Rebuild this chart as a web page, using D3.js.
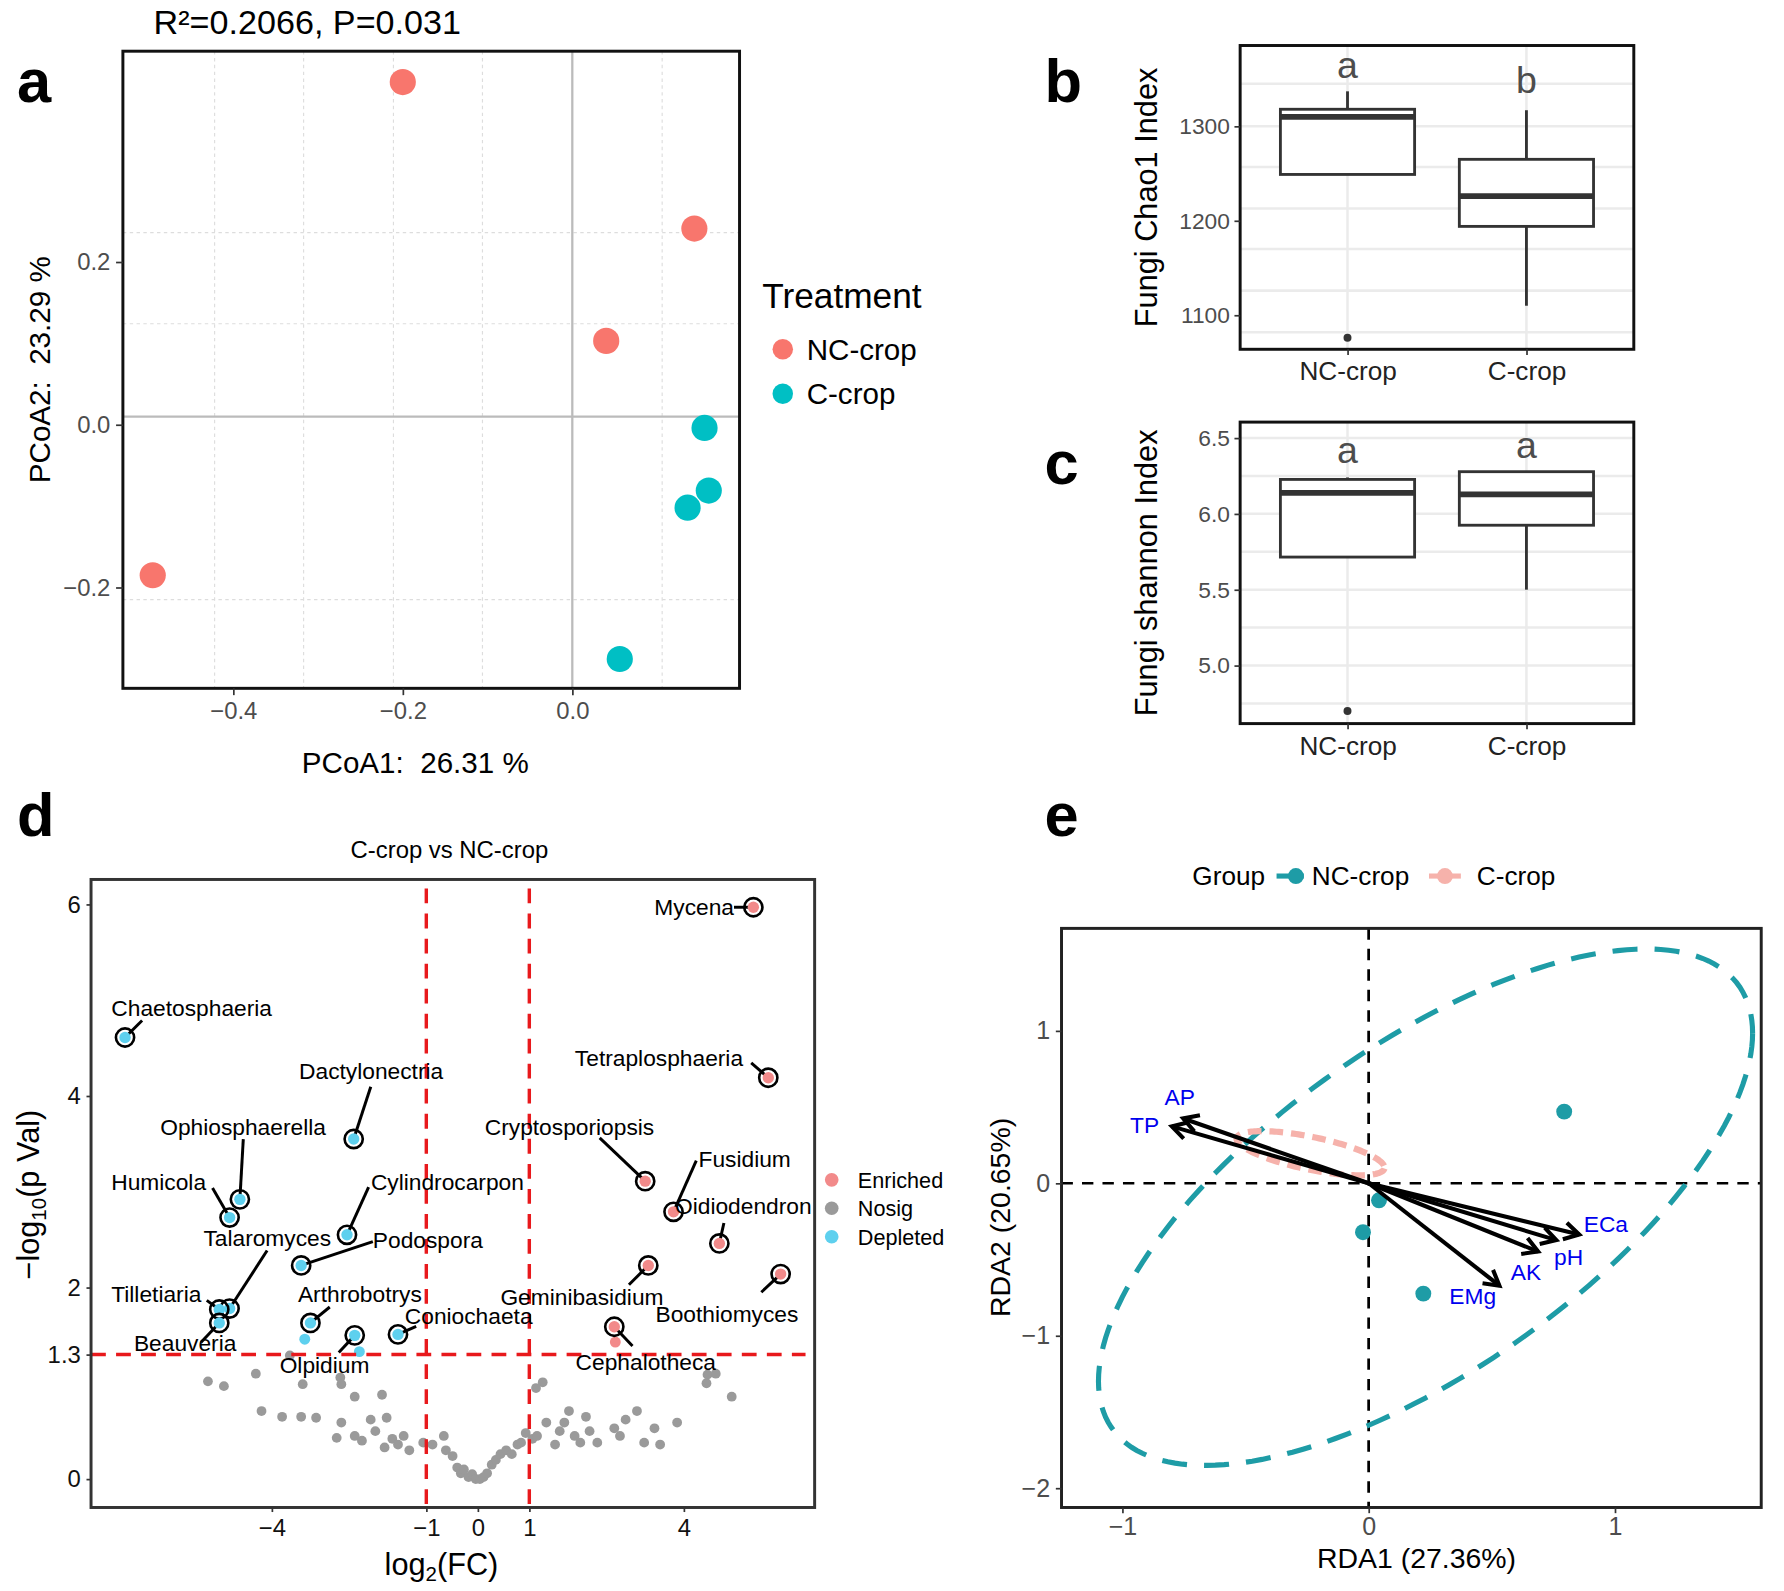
<!DOCTYPE html>
<html><head><meta charset="utf-8">
<script src="https://cdn.jsdelivr.net/npm/d3@7"></script>
<style>
body{margin:0;background:#fff}
svg{display:block}
text{font-family:"Liberation Sans",Arial,sans-serif}
</style>
</head><body>
<svg id="fig" width="1784" height="1591" viewBox="0 0 1568 1398.4"></svg>
<script>
// ---------------- DATA ----------------
// Panel a: PCoA
const pcoaGroups = ["NC-crop","NC-crop","NC-crop","NC-crop","C-crop","C-crop","C-crop","C-crop"];
const pcoaX = [-0.200, 0.144, 0.040, -0.495, 0.156, 0.161, 0.136, 0.056];
const pcoaY = [0.421, 0.241, 0.103, -0.185, -0.004, -0.081, -0.102, -0.288];
const pcoaTicksX = [-0.4, -0.2, 0.0];
const pcoaTicksY = [-0.2, 0.0, 0.2];
const pcoaGridX = [-0.422, -0.317, -0.211, -0.106, 0.106];
const pcoaGridY = [0.236, 0.124, -0.215];
const pcoaTitle = "R²=0.2066, P=0.031";

// Panel b / c: boxplots
const groups = ["NC-crop", "C-crop"];
const chaoQ1 = [1249, 1194], chaoMed = [1310, 1226], chaoQ3 = [1318, 1265];
const chaoLow = [1249, 1110], chaoHigh = [1337, 1317];
const chaoOut = [[1076], []];
const chaoLetters = ["a", "b"], chaoLetterY = [1364, 1348];
const chaoTicks = [1100, 1200, 1300];
const chaoGrid = [1082, 1126, 1170, 1213, 1257, 1300, 1345];

const shanQ1 = [5.715, 5.925], shanMed = [6.138, 6.129], shanQ3 = [6.227, 6.278];
const shanLow = [5.715, 5.50], shanHigh = [6.24, 6.278];
const shanOut = [[4.70], []];
const shanLetters = ["a", "a"], shanLetterY = [6.42, 6.45];
const shanTicks = [5.0, 5.5, 6.0, 6.5];
const shanGrid = [4.75, 5.0, 5.25, 5.5, 5.75, 6.0, 6.25, 6.5];

// Panel d: volcano
const sigNames = ["Chaetosphaeria","Dactylonectria","Ophiosphaerella","Humicola","Cylindrocarpon","Talaromyces","Podospora","Tilletiaria","Beauveria","Arthrobotrys","Olpidium","Coniochaeta",
  "Mycena","Tetraplosphaeria","Cryptosporiopsis","Fusidium","Oidiodendron","Geminibasidium","Boothiomyces","Cephalotheca"];
const sigFC = [-6.85,-2.41,-4.62,-4.82,-2.54,-4.82,-3.43,-5.02,-5.02,-3.25,-2.39,-1.55,
  5.35,5.64,3.25,3.80,4.69,3.31,5.88,2.65];
const sigP = [4.61,3.55,2.92,2.73,2.55,1.78,2.23,1.77,1.63,1.63,1.50,1.51,
  5.97,4.19,3.11,2.79,2.46,2.23,2.14,1.59];
const extraSigFC = [-3.36, -2.30, 2.67];
const extraSigP = [1.46, 1.33, 1.43];
const nosigFC = [-5.24,-4.93,-4.31,-3.65,-3.40,-2.67,-2.65,-4.20,-3.80,-3.43,-3.14,-2.74,-2.39,-2.25,-2.65,-2.08,-1.99,-1.77,-1.81,-1.66,-1.55,-1.44,-1.33,-1.06,-0.88,-0.66,-0.62,-0.49,-0.40,-0.33,-0.27,-0.18,-0.11,-0.04,0.04,0.11,0.18,0.27,0.35,0.44,0.55,0.66,0.77,0.84,0.93,1.06,1.15,1.26,1.13,1.33,1.50,1.59,1.68,1.77,1.88,1.99,2.10,2.17,2.32,2.65,2.76,2.87,3.09,3.23,3.43,3.54,3.87,4.46,4.62,4.44,4.93,-2.39,-1.86];
const nosigP = [1.02,0.97,1.10,1.29,0.99,1.06,0.99,0.71,0.65,0.65,0.64,0.43,0.45,0.40,0.59,0.62,0.50,0.64,0.33,0.42,0.36,0.45,0.30,0.38,0.36,0.45,0.30,0.24,0.12,0.06,0.10,0.02,0.05,0.00,0.00,0.02,0.06,0.15,0.20,0.26,0.30,0.26,0.36,0.38,0.48,0.42,0.45,1.01,0.95,0.59,0.36,0.50,0.59,0.71,0.45,0.38,0.65,0.50,0.38,0.53,0.45,0.62,0.71,0.38,0.53,0.36,0.59,1.09,1.10,1.00,0.86,0.86,0.88];
const volcTicksX = [-4, -1, 0, 1, 4];
const volcTicksY = [0, 1.3, 2, 4, 6];
const fcCut = [-1, 1], pCut = 1.3;

// Panel e: RDA
const rdaSiteX = [0.794, 0.042, -0.023, 0.222];
const rdaSiteY = [0.470, -0.112, -0.321, -0.724];
const envNames = ["AP","TP","ECa","pH","AK","EMg"];
const envX = [-0.753, -0.799, 0.855, 0.762, 0.688, 0.531];
const envY = [0.425, 0.373, -0.336, -0.373, -0.448, -0.672];
const ellNC = {c:[0.231,-0.157], a:[1.328,1.142], b:[0,-1.251]};
const ellC = {c:[-0.236,0.197], a:[0.300,-0.100], b:[-0.014,-0.105]};
const rdaTicksX = [-1, 0, 1];
const rdaTicksY = [-2, -1, 0, 1];

// ---------------- DRAW ----------------
const svg = d3.select("#fig");
const FONT = '"Liberation Sans",Arial,sans-serif';
const fmtMinus = d => String(d).replace("-", "\u2212");

function txt(g, x, y, s, o = {}) {
  const t = g.append("text").attr("x", x).attr("y", y).text(s)
    .attr("font-size", o.size || 20).attr("fill", o.fill || "#000")
    .attr("text-anchor", o.anchor || "start");
  if (o.weight) t.attr("font-weight", o.weight);
  if (o.rotate) t.attr("transform", `rotate(${o.rotate},${x},${y})`);
  if (o.pre) t.style("white-space", "pre");
  return t;
}

// panel letters
[["a",15,90],["b",918,90],["c",918,425],["d",15,735],["e",918,735]].forEach(([l,x,y]) =>
  txt(svg, x, y, l, {size: 54, weight: "bold"}));

// ===== Panel a =====
(function(){
  const g = svg.append("g");
  const x = d3.scaleLinear().domain([-0.5302, 0.1973]).range([108, 650]);
  const y = d3.scaleLinear().domain([-0.324, 0.459]).range([605, 45]);
  const col = {"NC-crop": "#F8766D", "C-crop": "#00BFC4"};
  pcoaGridX.forEach(v => g.append("line").attr("x1", x(v)).attr("x2", x(v)).attr("y1", 45).attr("y2", 605)
    .attr("stroke", "#DDDDDD").attr("stroke-width", 1).attr("stroke-dasharray", "3,3"));
  pcoaGridY.forEach(v => g.append("line").attr("y1", y(v)).attr("y2", y(v)).attr("x1", 108).attr("x2", 650)
    .attr("stroke", "#DDDDDD").attr("stroke-width", 1).attr("stroke-dasharray", "3,3"));
  g.append("line").attr("x1", x(0)).attr("x2", x(0)).attr("y1", 45).attr("y2", 605).attr("stroke", "#BBBBBB").attr("stroke-width", 2);
  g.append("line").attr("y1", y(0.01)).attr("y2", y(0.01)).attr("x1", 108).attr("x2", 650).attr("stroke", "#BBBBBB").attr("stroke-width", 2);
  g.selectAll("circle.p").data(pcoaX).join("circle")
    .attr("cx", (d) => x(d)).attr("cy", (d, i) => y(pcoaY[i])).attr("r", 11.5)
    .attr("fill", (d, i) => col[pcoaGroups[i]]);
  g.append("rect").attr("x", 108).attr("y", 45).attr("width", 542).attr("height", 560)
    .attr("fill", "none").attr("stroke", "#111").attr("stroke-width", 2.6);
  const ax = g.append("g").attr("transform", "translate(0,605)")
    .call(d3.axisBottom(x).tickValues(pcoaTicksX).tickFormat(d => fmtMinus(d3.format(".1f")(d))).tickSize(6).tickPadding(6));
  const ay = g.append("g").attr("transform", "translate(108,0)")
    .call(d3.axisLeft(y).tickValues(pcoaTicksY).tickFormat(d => fmtMinus(d3.format(".1f")(d))).tickSize(6).tickPadding(5));
  [ax, ay].forEach(a => { a.select(".domain").remove(); a.selectAll("line").attr("stroke", "#333").attr("stroke-width", 1.5);
    a.selectAll("text").attr("font-size", 21).attr("fill", "#4D4D4D").attr("font-family", FONT); });
  txt(g, 135, 30, pcoaTitle, {size: 30});
  txt(g, 365, 679, "PCoA1:  26.31 %", {size: 26, anchor: "middle", pre: true});
  txt(g, 44, 325, "PCoA2:  23.29 %", {size: 26, anchor: "middle", rotate: -90, pre: true});
  txt(g, 670, 271, "Treatment", {size: 31});
  groups.forEach((k, i) => {
    g.append("circle").attr("cx", 688).attr("cy", 307 + i * 39).attr("r", 9).attr("fill", col[k]);
    txt(g, 709, 316 + i * 39, k, {size: 26});
  });
})();

// ===== Panels b, c =====
function boxPanel(top, bottom, dom, q1, med, q3, lo, hi, outs, letters, letterY, ticks, grid, fmt, ylab) {
  const g = svg.append("g");
  const L = 1090, R = 1436;
  const x = d3.scalePoint().domain(groups).range([L, R]).padding(0.6);
  const y = d3.scaleLinear().domain(dom).range([bottom, top]);
  const bw = x.step() * 0.75;
  grid.forEach(v => g.append("line").attr("x1", L).attr("x2", R).attr("y1", y(v)).attr("y2", y(v)).attr("stroke", "#EBEBEB").attr("stroke-width", 2.2));
  groups.forEach(k => g.append("line").attr("x1", x(k)).attr("x2", x(k)).attr("y1", top).attr("y2", bottom).attr("stroke", "#EBEBEB").attr("stroke-width", 2.2));
  groups.forEach((k, i) => {
    const cx = x(k);
    g.append("line").attr("x1", cx).attr("x2", cx).attr("y1", y(hi[i])).attr("y2", y(q3[i])).attr("stroke", "#333").attr("stroke-width", 2.5);
    g.append("line").attr("x1", cx).attr("x2", cx).attr("y1", y(q1[i])).attr("y2", y(lo[i])).attr("stroke", "#333").attr("stroke-width", 2.5);
    g.append("rect").attr("x", cx - bw / 2).attr("width", bw).attr("y", y(q3[i])).attr("height", y(q1[i]) - y(q3[i]))
      .attr("fill", "#fff").attr("stroke", "#333").attr("stroke-width", 2.5);
    g.append("line").attr("x1", cx - bw / 2).attr("x2", cx + bw / 2).attr("y1", y(med[i])).attr("y2", y(med[i])).attr("stroke", "#333").attr("stroke-width", 5);
    outs[i].forEach(o => g.append("circle").attr("cx", cx).attr("cy", y(o)).attr("r", 3.5).attr("fill", "#333"));
    txt(g, cx, y(letterY[i]) + 11, letters[i], {size: 33, anchor: "middle", fill: "#4D4D4D"});
  });
  g.append("rect").attr("x", L).attr("y", top).attr("width", R - L).attr("height", bottom - top)
    .attr("fill", "none").attr("stroke", "#111").attr("stroke-width", 2.6);
  const ay = g.append("g").attr("transform", `translate(${L},0)`)
    .call(d3.axisLeft(y).tickValues(ticks).tickFormat(fmt).tickSize(5).tickPadding(4));
  const ax = g.append("g").attr("transform", `translate(0,${bottom})`)
    .call(d3.axisBottom(x).tickSize(5).tickPadding(6));
  ay.selectAll("text").attr("font-size", 20).attr("fill", "#4D4D4D");
  ax.selectAll("text").attr("font-size", 23).attr("fill", "#222");
  [ax, ay].forEach(a => { a.select(".domain").remove(); a.selectAll("line").attr("stroke", "#333").attr("stroke-width", 1.5);
    a.selectAll("text").attr("font-family", FONT); });
  txt(g, 1017, (top + bottom) / 2, ylab, {size: 27, anchor: "middle", rotate: -90});
}
boxPanel(40, 307, [1063.9, 1385.5], chaoQ1, chaoMed, chaoQ3, chaoLow, chaoHigh, chaoOut, chaoLetters, chaoLetterY, chaoTicks, chaoGrid, d3.format("d"), "Fungi Chao1 Index");
boxPanel(371, 636, [4.617, 6.605], shanQ1, shanMed, shanQ3, shanLow, shanHigh, shanOut, shanLetters, shanLetterY, shanTicks, shanGrid, d3.format(".1f"), "Fungi shannon Index");

// ===== Panel d: volcano =====
(function(){
  const g = svg.append("g");
  const L = 80, R = 716, T = 773, B = 1325;
  const x = d3.scaleLinear().domain([-7.51, 6.54]).range([L, R]);
  const y = d3.scaleLinear().domain([-0.297, 6.26]).range([B, T]);
  const cEn = "#F28A8A", cNo = "#9A9A9A", cDe = "#5ED0EE";
  // label layout offsets (px): text dx,dy, anchor, connector end dx,dy
  const lay = {
    Chaetosphaeria:[-12,-19,"start",15,-15], Dactylonectria:[-48,-53,"start",15,-46], Ophiosphaerella:[-70,-57,"start",3,-53],
    Humicola:[-104,-24,"start",-15,-26], Cylindrocarpon:[21,-39,"start",19,-42], Talaromyces:[-23,-55,"start",33,-51],
    Podospora:[63,-15,"start",63,-21], Tilletiaria:[-95,-7,"start",-11,-8], Beauveria:[-75,25,"start",-16,17],
    Arthrobotrys:[-11,-18,"start",17,-14], Olpidium:[-66,33,"start",-14,15], Coniochaeta:[6,-9,"start",16,-7],
    Mycena:[-17,7,"end",-17,0], Tetraplosphaeria:[-170,-10,"start",-15,-13], Cryptosporiopsis:[-141,-41,"start",-40,-38],
    Fusidium:[22,-39,"start",20,-45], Oidiodendron:[-39,-26,"start",4,-18], Geminibasidium:[-130,35,"start",-17,17],
    Boothiomyces:[-110,42,"start",-17,16], Cephalotheca:[-34,38,"start",16,17]
  };
  txt(g, 395, 754, "C-crop vs NC-crop", {size: 21, anchor: "middle"});
  // nosig
  g.selectAll("circle.n").data(nosigFC).join("circle").attr("cx", d => x(d)).attr("cy", (d, i) => y(nosigP[i])).attr("r", 4.3).attr("fill", cNo);
  extraSigFC.forEach((d, i) => g.append("circle").attr("cx", x(d)).attr("cy", y(extraSigP[i])).attr("r", 4.8).attr("fill", d > 0 ? cEn : cDe));
  // cut lines
  fcCut.forEach(v => g.append("line").attr("x1", x(v)).attr("x2", x(v)).attr("y1", T + 8).attr("y2", B).attr("stroke", "#E8191C").attr("stroke-width", 3).attr("stroke-dasharray", "13,9"));
  g.append("line").attr("x1", L).attr("x2", R - 8).attr("y1", y(pCut)).attr("y2", y(pCut)).attr("stroke", "#E8191C").attr("stroke-width", 3).attr("stroke-dasharray", "13,9");
  // labelled points
  sigNames.forEach((n, i) => {
    const px = x(sigFC[i]), py = y(sigP[i]);
    const l = lay[n];
    g.append("line").attr("x1", px).attr("y1", py).attr("x2", px + l[3]).attr("y2", py + l[4]).attr("stroke", "#000").attr("stroke-width", 2.6);
    g.append("circle").attr("cx", px).attr("cy", py).attr("r", 5).attr("fill", sigFC[i] > 0 ? cEn : cDe);
    g.append("circle").attr("cx", px).attr("cy", py).attr("r", 8).attr("fill", "none").attr("stroke", "#000").attr("stroke-width", 2.3);
    txt(g, px + l[0], py + l[1], n, {size: 20, anchor: l[2]});
  });
  g.append("rect").attr("x", L).attr("y", T).attr("width", R - L).attr("height", B - T).attr("fill", "none").attr("stroke", "#333").attr("stroke-width", 2.6);
  const ax = g.append("g").attr("transform", `translate(0,${B})`).call(d3.axisBottom(x).tickValues(volcTicksX).tickFormat(d => d < 0 ? "\u2212" + (-d) : d).tickSize(4).tickPadding(6));
  const ay = g.append("g").attr("transform", `translate(${L},0)`).call(d3.axisLeft(y).tickValues(volcTicksY).tickFormat(d => d).tickSize(4).tickPadding(5));
  [ax, ay].forEach(a => { a.select(".domain").remove(); a.selectAll("line").attr("stroke", "#333").attr("stroke-width", 1.5);
    a.selectAll("text").attr("font-size", 21).attr("fill", "#111").attr("font-family", FONT); });
  // axis titles with subscripts
  const xl = g.append("text").attr("x", 388).attr("y", 1384).attr("text-anchor", "middle").attr("font-size", 27);
  xl.append("tspan").text("log");
  xl.append("tspan").text("2").attr("font-size", 18).attr("dy", 6);
  xl.append("tspan").text("(FC)").attr("dy", -6);
  const yl = g.append("text").attr("x", 34).attr("y", 1050).attr("text-anchor", "middle").attr("font-size", 27)
    .attr("transform", "rotate(-90,34,1050)");
  yl.append("tspan").text("\u2212log");
  yl.append("tspan").text("10").attr("font-size", 18).attr("dy", 6);
  yl.append("tspan").text("(p Val)").attr("dy", -6);
  // legend
  [["Enriched", cEn], ["Nosig", cNo], ["Depleted", cDe]].forEach(([k, c], i) => {
    g.append("circle").attr("cx", 731).attr("cy", 1037 + i * 25).attr("r", 6).attr("fill", c);
    txt(g, 754, 1044 + i * 25, k, {size: 19});
  });
})();

// ===== Panel e: RDA =====
(function(){
  const g = svg.append("g");
  const L = 933, R = 1548, T = 816, B = 1325;
  const x = d3.scaleLinear().domain([-1.247, 1.594]).range([L, R]);
  const y = d3.scaleLinear().domain([-2.127, 1.672]).range([B, T]);
  const teal = "#1E9CA6", pink = "#F6B2AB";
  g.append("defs").append("clipPath").attr("id", "clipE").append("rect").attr("x", L).attr("y", T).attr("width", R - L).attr("height", B - T);
  const pg = g.append("g").attr("clip-path", "url(#clipE)");
  pg.append("line").attr("x1", x(0)).attr("x2", x(0)).attr("y1", T).attr("y2", B).attr("stroke", "#000").attr("stroke-width", 2.4).attr("stroke-dasharray", "10,8");
  pg.append("line").attr("x1", L).attr("x2", R).attr("y1", y(0)).attr("y2", y(0)).attr("stroke", "#000").attr("stroke-width", 2.4).attr("stroke-dasharray", "10,8");
  const ellPath = e => {
    const ts = d3.range(0, 2 * Math.PI + 0.001, Math.PI / 90);
    return d3.line()(ts.map(t => [x(e.c[0] + e.a[0] * Math.cos(t) + e.b[0] * Math.sin(t)), y(e.c[1] + e.a[1] * Math.cos(t) + e.b[1] * Math.sin(t))]));
  };
  pg.append("path").attr("d", ellPath(ellNC)).attr("fill", "none").attr("stroke", teal).attr("stroke-width", 4.5).attr("stroke-dasharray", "22,15");
  pg.append("path").attr("d", ellPath(ellC)).attr("fill", "none").attr("stroke", pink).attr("stroke-width", 5.5).attr("stroke-dasharray", "12,7");
  rdaSiteX.forEach((d, i) => pg.append("circle").attr("cx", x(d)).attr("cy", y(rdaSiteY[i])).attr("r", 7).attr("fill", teal));
  // arrows
  envNames.forEach((n, i) => {
    const x0 = x(0), y0 = y(0), x1 = x(envX[i]), y1 = y(envY[i]);
    const ang = Math.atan2(y1 - y0, x1 - x0), h = 15, w = Math.PI / 6;
    pg.append("line").attr("x1", x0).attr("y1", y0).attr("x2", x1).attr("y2", y1).attr("stroke", "#000").attr("stroke-width", 3.6);
    pg.append("path").attr("d", d3.line()([[x1 - h * Math.cos(ang - w), y1 - h * Math.sin(ang - w)], [x1, y1], [x1 - h * Math.cos(ang + w), y1 - h * Math.sin(ang + w)]]))
      .attr("fill", "none").attr("stroke", "#000").attr("stroke-width", 3.6).attr("stroke-linejoin", "miter");
  });
  const labOff = {AP:[-3,-12,"middle"], TP:[-24,6,"middle"], ECa:[4,-2,"start"], pH:[-2,22,"start"], AK:[-24,25,"start"], EMg:[-44,16,"start"]};
  envNames.forEach((n, i) => {
    const o = labOff[n];
    txt(g, x(envX[i]) + o[0], y(envY[i]) + o[1], n, {size: 20, anchor: o[2], fill: "#0000EE"});
  });
  g.append("rect").attr("x", L).attr("y", T).attr("width", R - L).attr("height", B - T).attr("fill", "none").attr("stroke", "#222").attr("stroke-width", 2.6);
  const ax = g.append("g").attr("transform", `translate(0,${B})`).call(d3.axisBottom(x).tickValues(rdaTicksX).tickFormat(fmtMinus).tickSize(5).tickPadding(4));
  const ay = g.append("g").attr("transform", `translate(${L},0)`).call(d3.axisLeft(y).tickValues(rdaTicksY).tickFormat(fmtMinus).tickSize(5).tickPadding(5));
  [ax, ay].forEach(a => { a.select(".domain").remove(); a.selectAll("line").attr("stroke", "#333").attr("stroke-width", 1.5);
    a.selectAll("text").attr("font-size", 22).attr("fill", "#4D4D4D").attr("font-family", FONT); });
  txt(g, 1245, 1378, "RDA1 (27.36%)", {size: 25, anchor: "middle"});
  txt(g, 888, 1070, "RDA2 (20.65%)", {size: 25, anchor: "middle", rotate: -90});
  // legend
  txt(g, 1048, 778, "Group", {size: 23});
  g.append("line").attr("x1", 1122).attr("x2", 1146).attr("y1", 770).attr("y2", 770).attr("stroke", teal).attr("stroke-width", 4.5);
  g.append("circle").attr("cx", 1139).attr("cy", 770).attr("r", 7).attr("fill", teal);
  txt(g, 1153, 778, "NC-crop", {size: 23});
  g.append("line").attr("x1", 1256).attr("x2", 1284).attr("y1", 770).attr("y2", 770).attr("stroke", pink).attr("stroke-width", 4.5);
  g.append("circle").attr("cx", 1270).attr("cy", 770).attr("r", 7).attr("fill", pink);
  txt(g, 1298, 778, "C-crop", {size: 23});
})();
</script>
</body></html>
